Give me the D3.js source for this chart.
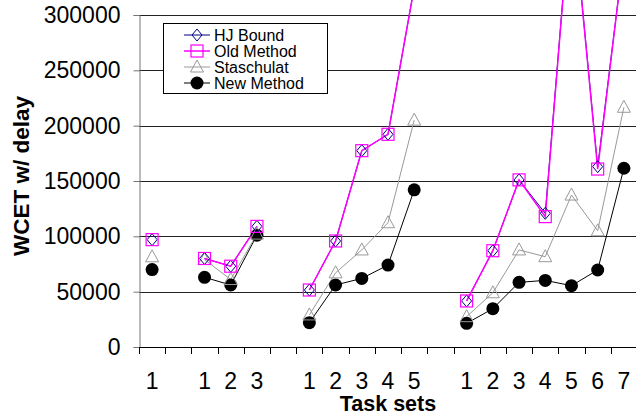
<!DOCTYPE html>
<html>
<head>
<meta charset="utf-8">
<script src="https://cdn.jsdelivr.net/npm/d3@7"></script>
<style>
  html, body { margin: 0; padding: 0; background: #fff; }
  svg { display: block; font-family: "Liberation Sans", Arial, sans-serif; }
</style>
</head>
<body>
<svg id="chart" width="636" height="415"></svg>
<script>
// ---- data ----
const xLabels = ["1","","1","2","3","","1","2","3","4","5","","1","2","3","4","5","6","7"];
const yTicks = [0, 50000, 100000, 150000, 200000, 250000, 300000];
const seriesNames = ["HJ Bound", "Old Method", "Staschulat", "New Method"];
const hjBound    = [97000,null,80000,73000,109000,null,51500,95800,177400,192200,325000,null,41600,87000,151000,120800,410000,163000,356000];
const oldMethod  = [97000,null,80000,73000,109000,null,51500,95800,177400,192200,325000,null,41600,87000,151000,117800,410000,160800,356000];
const staschulat = [81500,null,79000,61000,102000,null,29000,67000,87700,112300,205000,null,27400,49000,87700,81600,137300,105000,216600];
const newMethod  = [70000,null,63000,56000,101000,null,22000,56000,62000,74000,142000,null,21400,34600,58400,60200,55400,69600,161500];

(function () {
// ---- layout ----
const svg = d3.select("#chart");
const pLeft = 139, pRight = 637, pTop = 15, pBottom = 347;

const x = d3.scaleBand().domain(d3.range(xLabels.length)).range([pLeft, pRight]).padding(0);
const y = d3.scaleLinear().domain([0, 300000]).range([pBottom, pTop]);
const cx = i => x(i) + x.bandwidth() / 2;

// gridlines
svg.append("g").selectAll("line").data(yTicks.filter(d => d > 0)).join("line")
  .attr("x1", pLeft).attr("x2", 636)
  .attr("y1", d => Math.round(y(d)) + 0.5).attr("y2", d => Math.round(y(d)) + 0.5)
  .attr("stroke", "#222").attr("stroke-width", 1);

// y axis
const yAxis = svg.append("g").attr("transform", `translate(${pLeft + 0.5},0)`)
  .call(d3.axisLeft(y).tickValues(yTicks).tickSize(6).tickPadding(13).tickFormat(d3.format("d")));
yAxis.select(".domain").attr("stroke", "#777");
yAxis.selectAll(".tick line").attr("stroke", "#777");
yAxis.selectAll("text").attr("font-size", 23).attr("fill", "#000")
  .attr("font-family", "'Liberation Sans', Arial, sans-serif");

// x axis: boundary ticks
const bounds = d3.range(xLabels.length + 1).map(i => i < xLabels.length ? x(i) : pRight);
svg.append("line").attr("x1", pLeft).attr("x2", 636).attr("y1", pBottom + 0.5).attr("y2", pBottom + 0.5)
  .attr("stroke", "#000");
svg.append("g").selectAll("line").data(bounds).join("line")
  .attr("x1", d => Math.round(d) + 0.5).attr("x2", d => Math.round(d) + 0.5)
  .attr("y1", pBottom).attr("y2", pBottom + 7).attr("stroke", "#000");

// x axis labels
const xAxis = svg.append("g").attr("transform", `translate(0,${pBottom})`)
  .call(d3.axisBottom(x).tickSize(0).tickPadding(26).tickFormat(i => xLabels[i]));
xAxis.select(".domain").remove();
xAxis.selectAll("text").attr("font-size", 23).attr("fill", "#000")
  .attr("font-family", "'Liberation Sans', Arial, sans-serif");

// axis titles
svg.append("text").attr("x", (pLeft + pRight) / 2).attr("y", 411)
  .attr("text-anchor", "middle").attr("font-weight", "bold").attr("font-size", 21.5)
  .text("Task sets");
svg.append("text").attr("transform", "translate(29,176) rotate(-90)")
  .attr("text-anchor", "middle").attr("font-weight", "bold").attr("font-size", 22.5)
  .text("WCET w/ delay");

// ---- series ----
const series = [
  { name: seriesNames[0], values: hjBound,    color: "#000080", width: 1,   marker: "diamond" },
  { name: seriesNames[1], values: oldMethod,  color: "#FF00FF", width: 1.5, marker: "square" },
  { name: seriesNames[2], values: staschulat, color: "#999999", width: 1,   marker: "triangle" },
  { name: seriesNames[3], values: newMethod,  color: "#000000", width: 1,   marker: "circle" }
];

const line = d3.line().defined(d => d.v !== null).x(d => cx(d.i)).y(d => y(d.v));

function drawMarker(g, type, color) {
  if (type === "diamond") {
    g.append("path").attr("d", "M0,-6L5,0L0,6L-5,0Z").attr("fill", "none").attr("stroke", color).attr("stroke-width", 1);
  } else if (type === "square") {
    g.append("rect").attr("x", -6).attr("y", -6).attr("width", 12).attr("height", 12)
      .attr("fill", "none").attr("stroke", color).attr("stroke-width", 1.2);
  } else if (type === "triangle") {
    g.append("path").attr("d", "M0,-7L6.5,5L-6.5,5Z").attr("fill", "none").attr("stroke", color).attr("stroke-width", 1);
  } else {
    g.append("circle").attr("r", 6.5).attr("fill", color);
  }
}

const order = [3, 2, 0, 1];
order.forEach(k => {
  const s = series[k];
  const pts = s.values.map((v, i) => ({ i, v }));
  svg.append("path").datum(pts).attr("d", line)
    .attr("fill", "none").attr("stroke", s.color).attr("stroke-width", s.width);
});
order.forEach(k => {
  const s = series[k];
  s.values.forEach((v, i) => {
    if (v === null) return;
    const g = svg.append("g").attr("transform", `translate(${cx(i)},${y(v)})`);
    drawMarker(g, s.marker, s.color);
  });
});

// ---- legend ----
const lg = svg.append("g");
lg.append("rect").attr("x", 163.5).attr("y", 23.5).attr("width", 164).attr("height", 70)
  .attr("fill", "#fff").attr("stroke", "#000");
series.forEach((s, k) => {
  const ly = 35 + k * 16;
  lg.append("line").attr("x1", 184).attr("x2", 210).attr("y1", ly).attr("y2", ly)
    .attr("stroke", s.color).attr("stroke-width", s.width);
  const g = lg.append("g").attr("transform", `translate(197,${ly})`);
  drawMarker(g, s.marker, s.color);
  lg.append("text").attr("x", 214).attr("y", ly + 6).attr("font-size", 16).text(s.name);
});
})();
</script>
</body>
</html>
